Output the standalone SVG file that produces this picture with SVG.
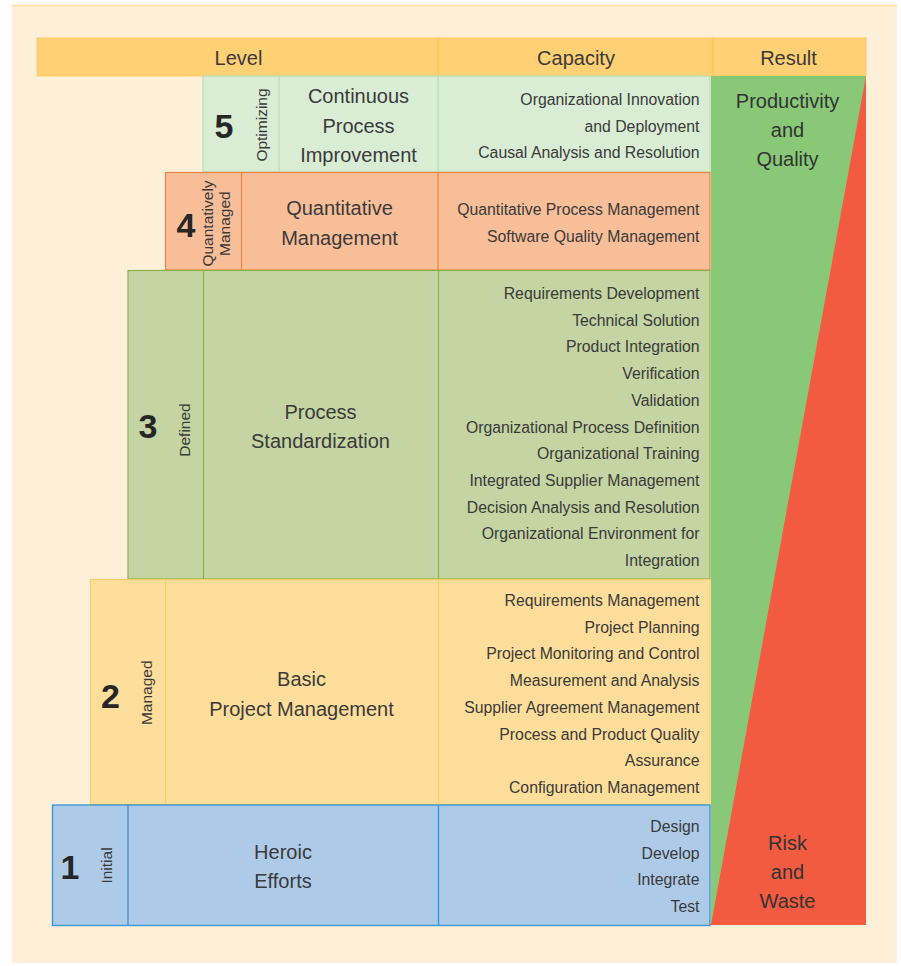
<svg xmlns="http://www.w3.org/2000/svg" width="901" height="966" viewBox="0 0 901 966">
  <style>
    text { font-family: "Liberation Sans", Arial, sans-serif; fill: #3a3a3a; }
    .hdr { font-size: 20px; text-anchor: middle; }
    .name { font-size: 20px; text-anchor: middle; }
    .cap { font-size: 15.8px; text-anchor: end; }
    .num { font-size: 34px; text-anchor: middle; font-weight: bold; fill: #262626; }
    .tag { font-size: 15.5px; text-anchor: middle; }
    .res { font-size: 20px; text-anchor: middle; fill: #333; }
    .l5 { fill: #d9edd5; stroke: #b9dcb0; stroke-width: 1.2; }
    .l4 { fill: #f8be98; stroke: #ec8443; stroke-width: 1.2; }
    .l3 { fill: #c4d4a2; stroke: #8cb24c; stroke-width: 1.2; }
    .l2 { fill: #ffde9b; stroke: #ffcd66; stroke-width: 1.2; }
    .l1 { fill: #aecae9; stroke: #3b98d2; stroke-width: 1.4; }
  </style>

  <!-- page panel -->
  <rect x="0" y="0" width="901" height="966" fill="#ffffff"/>
  <rect x="12" y="5" width="885" height="958" fill="#fef0d8"/>
  <line x1="12" y1="5.5" x2="897" y2="5.5" stroke="#fedb98" stroke-width="1.5"/>

  <!-- column header -->
  <g id="header">
    <rect x="37" y="38" width="829" height="38" fill="#ffd074" stroke="#ffc95c" stroke-width="1"/>
    <line x1="438" y1="38" x2="438" y2="76" stroke="#ffc24a" stroke-width="1"/>
    <line x1="713" y1="38" x2="713" y2="76" stroke="#ffc24a" stroke-width="1"/>
    <text class="hdr" x="238.5" y="65">Level</text>
    <text class="hdr" x="576" y="65">Capacity</text>
    <text class="hdr" x="788.5" y="65">Result</text>
  </g>

  <!-- result column: productivity wedge over risk wedge -->
  <g id="result">
    <rect x="711" y="76" width="155" height="849" fill="#88c877"/>
    <polygon points="866,76 866,925 711,925" fill="#f25b3f"/>
    <text class="res" x="787.5" y="107.5">Productivity</text>
    <text class="res" x="787.5" y="136.8">and</text>
    <text class="res" x="787.5" y="166">Quality</text>
    <text class="res" x="787.5" y="850">Risk</text>
    <text class="res" x="787.5" y="879.2">and</text>
    <text class="res" x="787.5" y="908.4">Waste</text>
  </g>

  <!-- level 5 -->
  <g id="level5">
    <rect class="l5" x="203" y="76" width="507" height="96"/>
    <line class="l5" x1="279" y1="76" x2="279" y2="172"/>
    <line class="l5" x1="438" y1="76" x2="438" y2="172"/>
    <text class="num" x="224" y="138.3">5</text>
    <text class="tag" transform="translate(266.5,125) rotate(-90)">Optimizing</text>
    <text class="name" x="358.5" y="103">Continuous</text>
    <text class="name" x="358.5" y="132.5">Process</text>
    <text class="name" x="358.5" y="162">Improvement</text>
    <text class="cap" x="699.5" y="105">Organizational Innovation</text>
    <text class="cap" x="699.5" y="131.5">and Deployment</text>
    <text class="cap" x="699.5" y="158">Causal Analysis and Resolution</text>
  </g>

  <!-- level 4 -->
  <g id="level4">
    <rect class="l4" x="165.5" y="172.5" width="544.5" height="97.5"/>
    <line class="l4" x1="241.5" y1="172.5" x2="241.5" y2="270"/>
    <line class="l4" x1="438" y1="172.5" x2="438" y2="270"/>
    <text class="num" x="186" y="236.7">4</text>
    <text class="tag" transform="translate(212.5,223.5) rotate(-90)">Quantatively</text>
    <text class="tag" transform="translate(229.5,223.7) rotate(-90)">Managed</text>
    <text class="name" x="339.5" y="215">Quantitative</text>
    <text class="name" x="339.5" y="245">Management</text>
    <text class="cap" x="699.5" y="215">Quantitative Process Management</text>
    <text class="cap" x="699.5" y="242">Software Quality Management</text>
  </g>

  <!-- level 3 -->
  <g id="level3">
    <rect class="l3" x="128" y="270.5" width="582" height="308.5"/>
    <line class="l3" x1="203.5" y1="270.5" x2="203.5" y2="579"/>
    <line class="l3" x1="438.5" y1="270.5" x2="438.5" y2="579"/>
    <text class="num" x="148" y="438.3">3</text>
    <text class="tag" transform="translate(189.8,430) rotate(-90)">Defined</text>
    <text class="name" x="320.5" y="419.3">Process</text>
    <text class="name" x="320.5" y="448.3">Standardization</text>
    <text class="cap" x="699.5" y="299">Requirements Development</text>
    <text class="cap" x="699.5" y="325.7">Technical Solution</text>
    <text class="cap" x="699.5" y="352.4">Product Integration</text>
    <text class="cap" x="699.5" y="379.1">Verification</text>
    <text class="cap" x="699.5" y="405.8">Validation</text>
    <text class="cap" x="699.5" y="432.5">Organizational Process Definition</text>
    <text class="cap" x="699.5" y="459.2">Organizational Training</text>
    <text class="cap" x="699.5" y="485.9">Integrated Supplier Management</text>
    <text class="cap" x="699.5" y="512.6">Decision Analysis and Resolution</text>
    <text class="cap" x="699.5" y="539.3">Organizational Environment for</text>
    <text class="cap" x="699.5" y="566">Integration</text>
  </g>

  <!-- level 2 -->
  <g id="level2">
    <rect class="l2" x="90.5" y="579.5" width="619.5" height="225"/>
    <line class="l2" x1="165.5" y1="579.5" x2="165.5" y2="804.5"/>
    <line class="l2" x1="438.5" y1="579.5" x2="438.5" y2="804.5"/>
    <text class="num" x="110.5" y="707.7">2</text>
    <text class="tag" transform="translate(151.8,692.8) rotate(-90)">Managed</text>
    <text class="name" x="301.5" y="686">Basic</text>
    <text class="name" x="301.5" y="716">Project Management</text>
    <text class="cap" x="699.5" y="606">Requirements Management</text>
    <text class="cap" x="699.5" y="632.7">Project Planning</text>
    <text class="cap" x="699.5" y="659.4">Project Monitoring and Control</text>
    <text class="cap" x="699.5" y="686.1">Measurement and Analysis</text>
    <text class="cap" x="699.5" y="712.8">Supplier Agreement Management</text>
    <text class="cap" x="699.5" y="739.5">Process and Product Quality</text>
    <text class="cap" x="699.5" y="766.2">Assurance</text>
    <text class="cap" x="699.5" y="792.9">Configuration Management</text>
  </g>

  <!-- level 1 -->
  <g id="level1">
    <rect class="l1" x="52.5" y="805" width="657.5" height="120.5"/>
    <line class="l1" x1="128" y1="805" x2="128" y2="925.5"/>
    <line class="l1" x1="438.5" y1="805" x2="438.5" y2="925.5"/>
    <text class="num" x="70" y="879.3">1</text>
    <text class="tag" transform="translate(111.5,865.5) rotate(-90)">Initial</text>
    <text class="name" x="283" y="859.3">Heroic</text>
    <text class="name" x="283" y="888">Efforts</text>
    <text class="cap" x="699.5" y="832.3">Design</text>
    <text class="cap" x="699.5" y="858.8">Develop</text>
    <text class="cap" x="699.5" y="885.3">Integrate</text>
    <text class="cap" x="699.5" y="911.8">Test</text>
  </g>

  <!-- no connectors in this chart -->
  <g id="connectors"/>
</svg>
